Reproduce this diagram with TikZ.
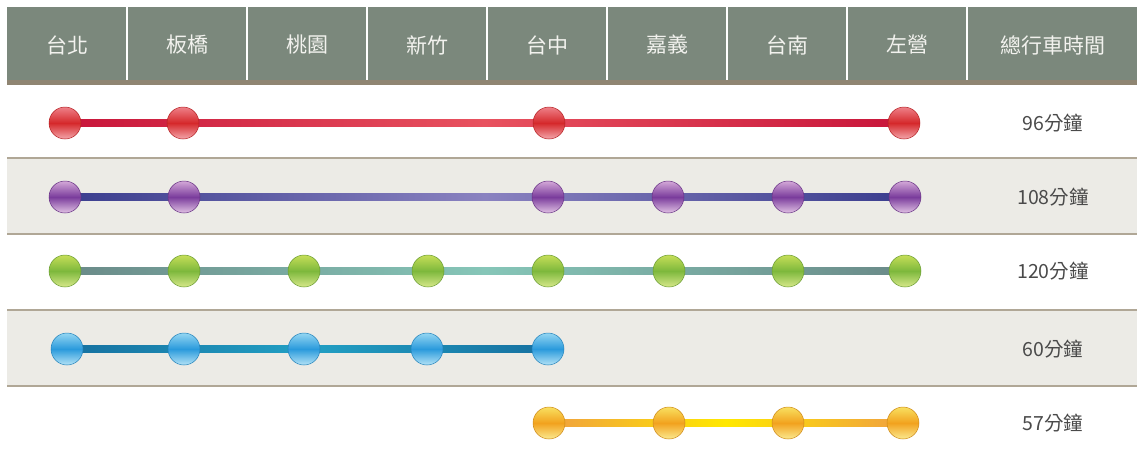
\documentclass[tikz,border=0pt]{standalone}
\usepackage{fontspec}
\setmainfont{Noto Sans CJK TC}
\usepackage{tikz}
\usetikzlibrary{calc}
\definecolor{headgreen}{HTML}{7B887C}
\definecolor{headtext}{HTML}{F2F2EE}
\definecolor{strip}{HTML}{8F8572}
\definecolor{rule}{HTML}{B0A796}
\definecolor{rowgray}{HTML}{ECEBE6}
\definecolor{timetext}{HTML}{4A4A4A}
\definecolor{redbase}{HTML}{D5282B}
\definecolor{redhi}{HTML}{EE8088}
\definecolor{redend}{HTML}{C8153A}
\definecolor{redmid}{HTML}{E8525F}
\definecolor{purbase}{HTML}{7A3C9C}
\definecolor{purhi}{HTML}{D4A8D8}
\definecolor{purend}{HTML}{3A3D8E}
\definecolor{purmid}{HTML}{8A82C0}
\definecolor{grnbase}{HTML}{7DB83C}
\definecolor{grnhi}{HTML}{C6DE58}
\definecolor{grnend}{HTML}{6A8A88}
\definecolor{grnmid}{HTML}{86C6B8}
\definecolor{blubase}{HTML}{2A9ADC}
\definecolor{bluhi}{HTML}{94D6F2}
\definecolor{bluend}{HTML}{1670A0}
\definecolor{blumid}{HTML}{22A0C4}
\definecolor{orabase}{HTML}{F2A21E}
\definecolor{orahi}{HTML}{F8E060}
\definecolor{oraend}{HTML}{F0A040}
\definecolor{oramid}{HTML}{FFE800}
\pgfdeclarelayer{bg}
\pgfdeclarelayer{rail}
\pgfsetlayers{bg,rail,main}
\tikzset{
  head/.style={text=headtext, font=\fontsize{21}{21}\selectfont},
  timelbl/.style={text=timetext, font=\fontsize{19.5}{19.5}\selectfont},
  rowline/.style={draw=rule, line width=1.6pt},
  colline/.style={draw=white, line width=1.2pt},
  ball/.style 2 args={circle, minimum size=32pt, inner sep=0pt, draw=#1!85!black, line width=0.5pt,
    top color=#2, bottom color=#2!70!white, middle color=#1},
  redball/.style={ball={redbase}{redhi}},
  purball/.style={ball={purbase}{purhi}},
  grnball/.style={ball={grnbase}{grnhi}},
  bluball/.style={ball={blubase}{bluhi}},
  oraball/.style={ball={orabase}{orahi}}
}

\begin{document}
\begin{tikzpicture}[x=1pt, y=-1pt]
  \useasboundingbox (0,0) rectangle (1137,459);

  % table background
  \begin{pgfonlayer}{bg}
    \fill[headgreen] (7,7) rectangle (1137,80);
    \fill[strip] (7,80) rectangle (1137,85);
    \fill[rowgray] (7,158) rectangle (1137,234);
    \fill[rowgray] (7,310) rectangle (1137,386);
    \foreach \x in {127,247,...,967}
      \draw[colline] (\x,7) -- (\x,80);
    \foreach \y in {158,234,310,386}
      \draw[rowline] (7,\y) -- (1137,\y);
  \end{pgfonlayer}

  % header
  \foreach \name [count=\i] in {台北,板橋,桃園,新竹,台中,嘉義,台南,左營}
    \node[head] (h\i) at ({67+120*(\i-1)},45) {\name};
  \node[head] (h9) at (1053,45) {總行車時間};

  % row 1
  \node[redball] (r1) at (65,123) {};
  \node[redball] (r2) at (183,123) {};
  \node[redball] (r3) at (549,123) {};
  \node[redball] (r4) at (904,123) {};
  \node[timelbl] (t1) at (1053,123) {96分鐘};

  % row 2
  \node[purball] (p1) at (65,197) {};
  \node[purball] (p2) at (184,197) {};
  \node[purball] (p3) at (548,197) {};
  \node[purball] (p4) at (668,197) {};
  \node[purball] (p5) at (788,197) {};
  \node[purball] (p6) at (905,197) {};
  \node[timelbl] (t2) at (1053,197) {108分鐘};

  % row 3
  \node[grnball] (g1) at (65,271) {};
  \node[grnball] (g2) at (184,271) {};
  \node[grnball] (g3) at (304,271) {};
  \node[grnball] (g4) at (428,271) {};
  \node[grnball] (g5) at (548,271) {};
  \node[grnball] (g6) at (669,271) {};
  \node[grnball] (g7) at (788,271) {};
  \node[grnball] (g8) at (905,271) {};
  \node[timelbl] (t3) at (1053,271) {120分鐘};

  % row 4
  \node[bluball] (b1) at (67,349) {};
  \node[bluball] (b2) at (184,349) {};
  \node[bluball] (b3) at (304,349) {};
  \node[bluball] (b4) at (427,349) {};
  \node[bluball] (b5) at (548,349) {};
  \node[timelbl] (t4) at (1053,349) {60分鐘};

  % row 5
  \node[oraball] (o1) at (549,423) {};
  \node[oraball] (o2) at (669,423) {};
  \node[oraball] (o3) at (788,423) {};
  \node[oraball] (o4) at (903,423) {};
  \node[timelbl] (t5) at (1053,423) {57分鐘};

  % rails
  \begin{pgfonlayer}{rail}
    \shade[left color=redend, right color=redend, middle color=redmid]
      ($(r1.center)+(0,-3.5)$) rectangle ($(r4.center)+(0,3.5)$);
    \shade[left color=purend, right color=purend, middle color=purmid]
      ($(p1.center)+(0,-3.5)$) rectangle ($(p6.center)+(0,3.5)$);
    \shade[left color=grnend, right color=grnend, middle color=grnmid]
      ($(g1.center)+(0,-3.5)$) rectangle ($(g8.center)+(0,3.5)$);
    \shade[left color=bluend, right color=bluend, middle color=blumid]
      ($(b1.center)+(0,-3.5)$) rectangle ($(b5.center)+(0,3.5)$);
    \shade[left color=oraend, right color=oraend, middle color=oramid]
      ($(o1.center)+(0,-3.5)$) rectangle ($(o4.center)+(0,3.5)$);
  \end{pgfonlayer}
\end{tikzpicture}
\end{document}
